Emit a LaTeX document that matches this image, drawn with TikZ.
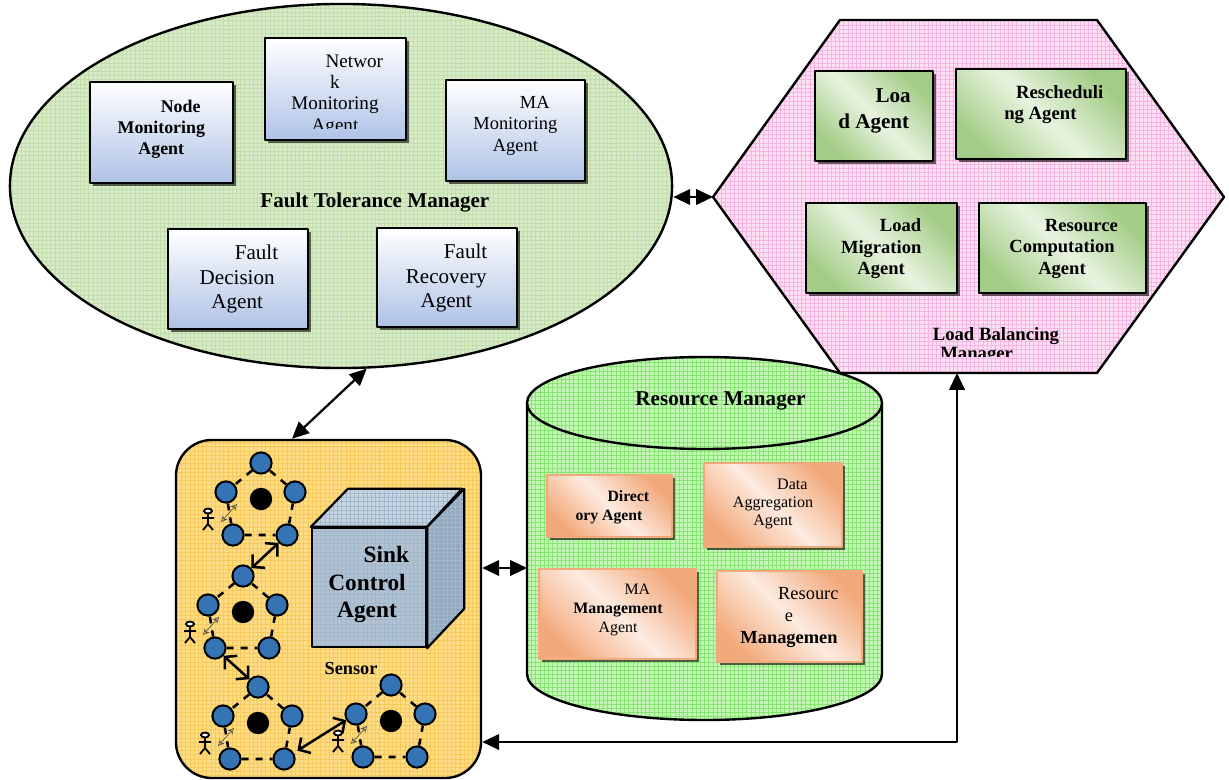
\documentclass[tikz,border=0pt]{standalone}
\usepackage{fontspec}
\setmainfont{Liberation Serif}
\usetikzlibrary{arrows.meta,shapes.geometric,shadows,patterns}

\definecolor{ftmgreen}{HTML}{D8EBC9}
\definecolor{ftmgrid}{HTML}{C2DCAC}
\definecolor{lbmpink}{HTML}{FEE0F4}
\definecolor{lbmgrid}{HTML}{F6B4E2}
\definecolor{rmgreen}{HTML}{C4F7B6}
\definecolor{rmgrid}{HTML}{88E574}
\definecolor{senyellow}{HTML}{FFDC86}
\definecolor{sengrid}{HTML}{F6C95C}
\definecolor{boxblue}{HTML}{AFC2E6}
\definecolor{leafgreen}{HTML}{A3CC86}
\definecolor{palegreen}{HTML}{E8F3E0}
\definecolor{peach}{HTML}{F2AA7C}
\definecolor{palepeach}{HTML}{FDEBE0}
\definecolor{moteblue}{HTML}{3474B4}
\definecolor{cubefront}{HTML}{B1C1D1}
\definecolor{cubetop}{HTML}{C6D3E0}
\definecolor{cubeside}{HTML}{93A8BD}
\definecolor{cubegrid}{HTML}{A2B8CD}

\newcommand\ind{\hspace*{27.5pt}}
\newcommand\fnt[2]{\fontsize{#1}{#2}\selectfont}

\tikzset{
  mgr/.style={draw, line width=1.7pt, pattern=grid},
  ftmshape/.style={mgr, preaction={fill=ftmgreen}, pattern color=ftmgrid},
  lbmshape/.style={mgr, preaction={fill=lbmpink}, pattern color=lbmgrid},
  rmshape/.style={mgr, preaction={fill=rmgreen}, pattern color=rmgrid},
  senshape/.style={mgr, preaction={fill=senyellow}, pattern color=sengrid},
  agent/.style={draw, line width=1.6pt, inner sep=0pt,
    drop shadow={shadow xshift=2.4pt, shadow yshift=-2.4pt, fill=black, opacity=.6}},
  ftmbox/.style={agent, top color=white, bottom color=boxblue},
  lbmbox/.style={agent, top color=leafgreen, bottom color=leafgreen, middle color=palegreen, shading angle=-45},
  rmbox/.style={agent, draw=peach, line width=.8pt, top color=peach, bottom color=peach, middle color=palepeach, shading angle=-45},
  lbl/.style={align=center, inner sep=0pt},
  link/.style={line width=1.6pt, {Triangle[length=12pt,width=11pt]}-{Triangle[length=12pt,width=11pt]}},
  hop/.style={line width=1.8pt, {Straight Barb[length=6pt,width=13pt]}-{Straight Barb[length=6pt,width=13pt]}},
  beam/.style={line width=.45pt, black!70, {Stealth[open,length=4.5pt,width=4.5pt]}-{Stealth[open,length=4.5pt,width=4.5pt]}},
  walker/.style={line width=1.3pt},
  ring/.style={line width=1.8pt, dash pattern=on 5pt off 5pt},
  hub/.style={circle, fill=black, minimum size=.56cm, inner sep=0pt},
  mote/.style={circle, draw, line width=1.4pt, fill=moteblue, minimum size=.53cm, inner sep=0pt},
}

\begin{document}
\begin{tikzpicture}[x=0.025cm,y=-0.025cm,line join=round]
\useasboundingbox (0,0) rectangle (1229,780);

% fault tolerance manager
\node[ftmshape, ellipse, inner sep=0pt, minimum width=16.55cm, minimum height=9.1cm] (ftm) at (341,186) {};
\node[ftmbox, minimum width=3.575cm, minimum height=2.525cm] (bNode) at (161.5,132.5) {};
\node[ftmbox, minimum width=3.525cm, minimum height=2.55cm] (bNet) at (335.5,89) {};
\node[ftmbox, minimum width=3.475cm, minimum height=2.525cm] (bMA) at (515.5,130.5) {};
\node[ftmbox, minimum width=3.5cm, minimum height=2.5cm] (bDec) at (238,279) {};
\node[ftmbox, minimum width=3.5cm, minimum height=2.475cm] (bRec) at (447,277.5) {};
\node[lbl, font=\fnt{12.7}{15}\bfseries] (tNode) at (161.3,129) {\ind Node\\Monitoring\\Agent};
\begin{scope}
  \clip (265,38) rectangle (406,129);
  \node[lbl, font=\fnt{13.6}{15.2}] (tNet) at (335,95) {\ind Networ\\k\\Monitoring\\Agent};
\end{scope}
\node[lbl, font=\fnt{13.1}{15.3}] (tMA) at (515.4,125.7) {\ind MA\\Monitoring\\Agent};
\node[lbl, font=\fnt{15}{17.4}] (tDec) at (237.2,279) {\ind Fault\\Decision\\Agent};
\node[lbl, font=\fnt{15}{17.4}] (tRec) at (446.3,278) {\ind Fault\\Recovery\\Agent};
\node[lbl, font=\fnt{15}{18}\bfseries] (tFtm) at (374.9,203) {Fault Tolerance Manager};

% load balancing manager
\path[lbmshape] (713,197) -- (840,20) -- (1097,20) -- (1224,197) -- (1097,373) -- (840,373) -- cycle;
\coordinate (lbmW) at (713,197);
\coordinate (lbmS) at (957,373);
\node[lbmbox, minimum width=2.95cm, minimum height=2.25cm] (gLoad) at (874,116) {};
\node[lbmbox, minimum width=4.25cm, minimum height=2.25cm] (gResch) at (1041,114) {};
\node[lbmbox, minimum width=3.775cm, minimum height=2.25cm] (gMig) at (881.5,248) {};
\node[lbmbox, minimum width=4.175cm, minimum height=2.25cm] (gComp) at (1062.5,248) {};
\node[lbl, font=\fnt{15}{18.5}\bfseries] (tLoad) at (873.8,111) {\ind Loa\\d Agent};
\node[lbl, font=\fnt{13.3}{15}\bfseries] (tResch) at (1040.4,104.5) {\ind Rescheduli\\ng Agent};
\node[lbl, font=\fnt{13.2}{15.3}\bfseries] (tMig) at (881.2,248.7) {\ind Load\\Migration\\Agent};
\node[lbl, font=\fnt{13.2}{15.3}\bfseries] (tComp) at (1062,248.7) {\ind Resource\\Computation\\Agent};
\begin{scope}
  \clip (900,300) rectangle (1100,357);
  \node[lbl, font=\fnt{13.3}{13.5}\bfseries] (tLbm) at (976.6,345.5) {\ind Load Balancing\\Manager};
\end{scope}

% resource manager
\path[rmshape] (527,403) -- (527,674) arc[start angle=180, end angle=0, x radius=177.5, y radius=46] -- (882,403) -- cycle;
\path[rmshape] (704.5,403) ellipse[x radius=177.5, y radius=46];
\coordinate (rmW) at (527,568);
\node[lbl, font=\fnt{15}{18}\bfseries] (tRm) at (720.5,401) {Resource Manager};
\node[rmbox, minimum width=3.125cm, minimum height=1.55cm] (oDir) at (609.5,506) {};
\node[rmbox, minimum width=3.45cm, minimum height=2.1cm] (oAgg) at (773,505) {};
\node[rmbox, minimum width=3.925cm, minimum height=2.25cm] (oMAM) at (617.5,614) {};
\node[rmbox, minimum width=3.625cm, minimum height=2.275cm] (oRes) at (789.5,616.5) {};
\node[lbl, font=\fnt{11.2}{13.5}\bfseries] (tDir) at (609,507.5) {\ind Direct\\ory Agent};
\node[lbl, font=\fnt{11.4}{12.8}] (tAgg) at (773,504) {\ind Data\\Aggregation\\Agent};
\node[lbl, font=\fnt{11.3}{13.5}] (tMAM) at (618,610) {\ind MA\\\textbf{Management}\\Agent};
\node[lbl, font=\fnt{13.1}{15.3}] (tRes) at (789,617.5) {\ind Resourc\\e\\\textbf{Managemen}};

% sensor field with the sink
\node[senshape, rounded corners=.9cm, minimum width=7.625cm, minimum height=8.45cm] (sen) at (328.5,609) {};
\node[draw, line width=1.6pt, preaction={fill=cubefront}, pattern=grid, pattern color=cubegrid,
  minimum width=2.85cm, minimum height=2.975cm] (sink) at (369,587.5) {};
\path[draw, line width=1.6pt, preaction={fill=cubetop}, pattern=grid, pattern color=cubegrid]
  (sink.north west) -- ++(37,-38) -- ++(114,0) -- (sink.north east) -- cycle;
\path[draw, line width=1.6pt, preaction={fill=cubeside}, pattern=grid, pattern color=cubegrid]
  (sink.north east) -- ++(37,-38) -- ++(0,120) -- (sink.south east) -- cycle;
\node[lbl, font=\fnt{16.6}{19.5}\bfseries] (tSink) at (367,584.6) {\ind Sink\\Control\\Agent};
\node[lbl, font=\fnt{13}{15}\bfseries] (tSen) at (351,669) {Sensor};

% clusters: head in the middle, five motes round it, one user each
\foreach \cx/\cy [count=\i] in {261/499,243/612,258/723,391/721}{
  \node[hub] (s\i-c) at (\cx,\cy) {};
  \foreach \p/\dx/\dy in {t/0/-36,l/-35/-7,r/34/-7,bl/-28/36,br/26/36}
    \node[mote] (s\i-\p) at ({\cx+\dx},{\cy+\dy}) {};
  \draw[ring] (s\i-t) -- (s\i-l) -- (s\i-bl) -- (s\i-br) -- (s\i-r) -- (s\i-t);
  \draw[walker, fill=white] ({\cx-53},{\cy+12}) ellipse[x radius=4, y radius=2.5];
  \draw[walker] ({\cx-53},{\cy+14.5}) -- ({\cx-53},{\cy+25})
    ({\cx-59},{\cy+19}) -- ({\cx-47},{\cy+19})
    ({\cx-58},{\cy+31}) -- ({\cx-53},{\cy+25}) -- ({\cx-48},{\cy+31});
  \draw[beam] ({\cx-40},{\cy+23}) -- ({\cx-24},{\cy+5});
}
\draw[hop] (s2-t) -- (s1-br);
\draw[hop] (s2-bl) -- (s3-t);
\draw[hop, shorten <=3pt] (s3-br) -- (s4-l);

% manager links
\coordinate (bend) at (957,742);
\draw[link] (ftm.east |- lbmW) -- (lbmW);
\draw[link] (ftm.-82) -- ([xshift=-0.9125cm]sen.north);
\draw[link] (sen.east |- rmW) -- (rmW);
\draw[link] (lbmS) -- (bend) -- (bend -| sen.east);
\end{tikzpicture}
\end{document}
